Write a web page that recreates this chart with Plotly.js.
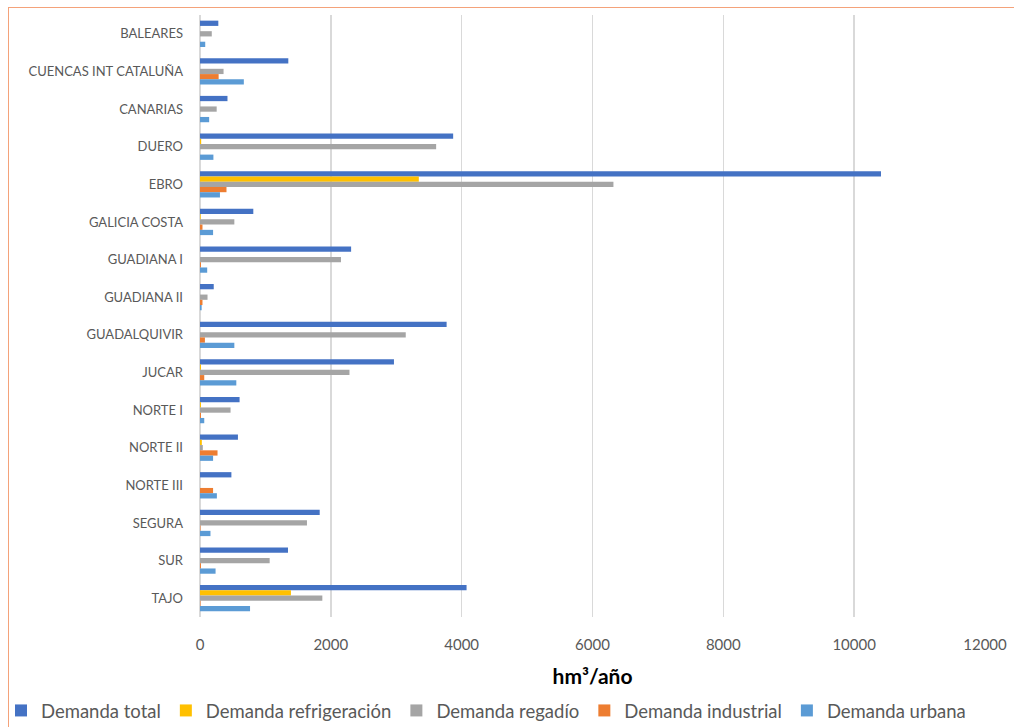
<!DOCTYPE html>
<html>
<head>
<meta charset="utf-8">
<script src="https://cdn.plot.ly/plotly-3.0.1.min.js"></script>
<style>
html,body{margin:0;padding:0;background:#fff;overflow:hidden;}
#frame{position:absolute;left:8px;top:7px;width:1100px;height:800px;border-left:1.5px solid #f4a27a;border-top:1.5px solid #f4a27a;pointer-events:none;z-index:5;}
#chart{position:absolute;left:0;top:0;width:1014px;height:727px;}
</style>
</head>
<body>
<div id="chart"></div>
<div id="frame"></div>
<script>
const categories = ["BALEARES","CUENCAS INT CATALUÑA","CANARIAS","DUERO","EBRO","GALICIA COSTA","GUADIANA I","GUADIANA II","GUADALQUIVIR","JUCAR","NORTE I","NORTE II","NORTE III","SEGURA","SUR","TAJO"];
const demandaTotal =         [280, 1350, 420, 3870, 10410, 815, 2310, 210, 3770, 2965, 605, 580, 480, 1830, 1345, 4075];
const demandaRefrigeracion = [0,   0,    0,   18,   3345,  10,  0,    0,   0,    15,   15,  28,  0,   0,    0,    1390];
const demandaRegadio =       [180, 360,  255, 3610, 6320,  525, 2155, 115, 3145, 2285, 467, 43,  0,   1635, 1065, 1870];
const demandaIndustrial =    [0,   285,  0,   0,    405,   38,  15,   38,  75,   65,   15,  268, 200, 8,    15,   8];
const demandaUrbana =        [80,  670,  140, 205,  305,   200, 110,  25,  525,  555,  65,  200, 258, 160,  238,  765];
const seriesNames = ["Demanda total","Demanda refrigeración","Demanda regadío","Demanda industrial","Demanda urbana"];
const xTicks = [0,2000,4000,6000,8000,10000,12000];

const colors = ["#4472C4","#FFC000","#A5A5A5","#ED7D31","#5B9BD5"];
const values = [demandaTotal, demandaRefrigeracion, demandaRegadio, demandaIndustrial, demandaUrbana];
const font = "Lato, 'Open Sans', sans-serif";

const traces = values.map((v,i)=>({
  type:'bar', orientation:'h', y:categories, x:v, name:seriesNames[i],
  marker:{color:colors[i], line:{width:0}}, hoverinfo:'x+name'
}));

const layout = {
  width:1014, height:727,
  paper_bgcolor:'#fff', plot_bgcolor:'#fff',
  margin:{l:200, r:29, t:15, b:110, autoexpand:false},
  barmode:'group', bargap:0.3, bargroupgap:0,
  font:{family:font, color:'#595959', size:13},
  xaxis:{range:[0,12000], tickvals:xTicks, ticktext:xTicks.map(String),
    showgrid:true, gridcolor:'#d9d9d9', gridwidth:1.5, zeroline:true, zerolinecolor:'#d9d9d9', zerolinewidth:1.5,
    showline:false, ticks:'', tickfont:{size:15, color:'#595959'}, ticklabelstandoff:17,
    title:{text:'<b>hm³/año</b>', font:{size:21, color:'#000'}, standoff:17}},
  yaxis:{autorange:'reversed', showgrid:false, showline:false, ticks:'', zeroline:false,
    tickfont:{size:13, color:'#595959'}, ticklabelstandoff:16},
  legend:{orientation:'h', xref:'paper', yref:'paper', x:-0.2535, y:-0.156, xanchor:'left', yanchor:'middle',
    font:{size:18.5, color:'#595959'}, itemwidth:30, traceorder:'normal'},
  showlegend:true
};
Plotly.newPlot('chart', traces, layout, {displayModeBar:false, staticPlot:true});
</script>
</body>
</html>
